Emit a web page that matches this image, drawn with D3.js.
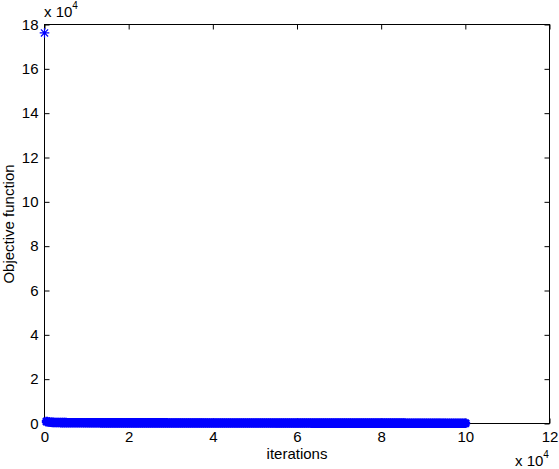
<!DOCTYPE html>
<html>
<head>
<meta charset="utf-8">
<script src="https://cdn.jsdelivr.net/npm/d3@7/dist/d3.min.js"></script>
<style>
  html, body { margin: 0; padding: 0; background: #fff; }
  svg { display: block; font-family: "Liberation Sans", Arial, Helvetica, sans-serif; }
</style>
</head>
<body>
<svg id="chart" width="559" height="469"></svg>
<script>
// ---- data ----
const xTicks = [0, 20000, 40000, 60000, 80000, 100000, 120000];
const yTicks = [0, 20000, 40000, 60000, 80000, 100000, 120000, 140000, 160000, 180000];
const xLabel = "iterations";
const yLabel = "Objective function";
const iterations = [
  0, 500, 1000, 1500, 2000, 2500, 3000, 3500, 4000, 4500,
  5000, 5500, 6000, 6500, 7000, 7500, 8000, 8500, 9000, 9500,
  10000, 10500, 11000, 11500, 12000, 12500, 13000, 13500, 14000, 14500,
  15000, 15500, 16000, 16500, 17000, 17500, 18000, 18500, 19000, 19500,
  20000, 20500, 21000, 21500, 22000, 22500, 23000, 23500, 24000, 24500,
  25000, 25500, 26000, 26500, 27000, 27500, 28000, 28500, 29000, 29500,
  30000, 30500, 31000, 31500, 32000, 32500, 33000, 33500, 34000, 34500,
  35000, 35500, 36000, 36500, 37000, 37500, 38000, 38500, 39000, 39500,
  40000, 40500, 41000, 41500, 42000, 42500, 43000, 43500, 44000, 44500,
  45000, 45500, 46000, 46500, 47000, 47500, 48000, 48500, 49000, 49500,
  50000, 50500, 51000, 51500, 52000, 52500, 53000, 53500, 54000, 54500,
  55000, 55500, 56000, 56500, 57000, 57500, 58000, 58500, 59000, 59500,
  60000, 60500, 61000, 61500, 62000, 62500, 63000, 63500, 64000, 64500,
  65000, 65500, 66000, 66500, 67000, 67500, 68000, 68500, 69000, 69500,
  70000, 70500, 71000, 71500, 72000, 72500, 73000, 73500, 74000, 74500,
  75000, 75500, 76000, 76500, 77000, 77500, 78000, 78500, 79000, 79500,
  80000, 80500, 81000, 81500, 82000, 82500, 83000, 83500, 84000, 84500,
  85000, 85500, 86000, 86500, 87000, 87500, 88000, 88500, 89000, 89500,
  90000, 90500, 91000, 91500, 92000, 92500, 93000, 93500, 94000, 94500,
  95000, 95500, 96000, 96500, 97000, 97500, 98000, 98500, 99000, 99500,
  100000
];
const objective = [
  176200, 900, 650, 560, 500, 470, 440, 420, 400, 390,
  380, 370, 365, 360, 350, 345, 340, 335, 330, 325,
  320, 318, 315, 312, 310, 308, 305, 302, 300, 298,
  296, 294, 292, 290, 288, 286, 284, 282, 280, 279,
  278, 277, 276, 275, 274, 273, 272, 271, 270, 269,
  268, 267, 266, 265, 264, 263, 262, 261, 260, 259,
  258, 257, 256, 255, 254, 253, 252, 251, 250, 249,
  248, 247, 246, 245, 244, 243, 242, 241, 240, 239,
  238, 237, 236, 235, 234, 233, 232, 231, 230, 229,
  228, 227, 226, 225, 224, 223, 222, 221, 220, 219,
  218, 217, 216, 215, 214, 213, 212, 211, 210, 209,
  208, 207, 206, 205, 204, 203, 202, 201, 200, 199,
  198, 197, 196, 195, 194, 193, 192, 191, 190, 189,
  188, 187, 186, 185, 184, 183, 182, 181, 180, 179,
  178, 177, 176, 175, 174, 173, 172, 171, 170, 169,
  168, 167, 166, 165, 164, 163, 162, 161, 160, 159,
  158, 157, 156, 155, 154, 153, 152, 151, 150, 149,
  148, 147, 146, 145, 144, 143, 142, 141, 140, 139,
  138, 137, 136, 135, 134, 133, 132, 131, 130, 129,
  128, 127, 126, 125, 124, 123, 122, 121, 120, 119,
  118
];

// ---- layout ----
const svg = d3.select("#chart");
const L = 44.5, R = 549.5, T = 24.5, B = 423.5;
const x = d3.scaleLinear().domain([0, 120000]).range([L, R]);
const y = d3.scaleLinear().domain([0, 180000]).range([B, T]);
const fmt = d => d3.format("d")(d / 10000);
const fontSize = 15;

// axes with inward ticks on all sides
const gB = svg.append("g").attr("transform", `translate(0,${B})`)
  .call(d3.axisBottom(x).tickValues(xTicks).tickSize(-5).tickPadding(8).tickFormat(fmt));
const gT = svg.append("g").attr("transform", `translate(0,${T})`)
  .call(d3.axisTop(x).tickValues(xTicks).tickSize(-5).tickFormat(""));
const gL = svg.append("g").attr("transform", `translate(${L},0)`)
  .call(d3.axisLeft(y).tickValues(yTicks).tickSize(-5).tickPadding(6).tickFormat(fmt));
const gR = svg.append("g").attr("transform", `translate(${R},0)`)
  .call(d3.axisRight(y).tickValues(yTicks).tickSize(-5).tickFormat(""));
[gB, gT, gL, gR].forEach(g => {
  g.select(".domain").remove();
  g.selectAll("line").attr("stroke", "#000");
  g.selectAll("text").attr("fill", "#000").style("font-size", fontSize + "px")
    .style("font-family", '"Liberation Sans", Arial, sans-serif');
});

// frame
svg.append("rect").attr("x", L).attr("y", T).attr("width", R - L).attr("height", B - T)
  .attr("fill", "none").attr("stroke", "#000").attr("stroke-width", 1);

// asterisk markers
const r = 4.8, d = r * 0.75;
const star = `M${-r},0L${r},0M0,${-r}L0,${r}M${-d},${-d}L${d},${d}M${-d},${d}L${d},${-d}`;
const pts = iterations.map((it, i) => ({ it, v: objective[i] }));
svg.append("g").selectAll("path").data(pts).join("path")
  .attr("transform", p => `translate(${x(p.it)},${y(p.v)})`)
  .attr("d", star).attr("fill", "none").attr("stroke", "#0000ff")
  .attr("stroke-width", (p, i) => i === 0 ? 1.2 : 2.8);

// labels
svg.append("text").attr("x", (L + R) / 2).attr("y", 459).attr("text-anchor", "middle")
  .style("font-size", fontSize + "px").text(xLabel);
svg.append("text").attr("transform", `translate(13.5,${(T + B) / 2}) rotate(-90)`)
  .attr("text-anchor", "middle").style("font-size", fontSize + "px").text(yLabel);

// exponent labels
const exp1 = svg.append("text").attr("x", 44).attr("y", 17).style("font-size", fontSize + "px");
exp1.append("tspan").text("x 10");
exp1.append("tspan").attr("dy", -8).style("font-size", "10px").text("4");
const exp2 = svg.append("text").attr("x", 515).attr("y", 466).style("font-size", fontSize + "px");
exp2.append("tspan").text("x 10");
exp2.append("tspan").attr("dy", -8).style("font-size", "10px").text("4");
</script>
</body>
</html>
